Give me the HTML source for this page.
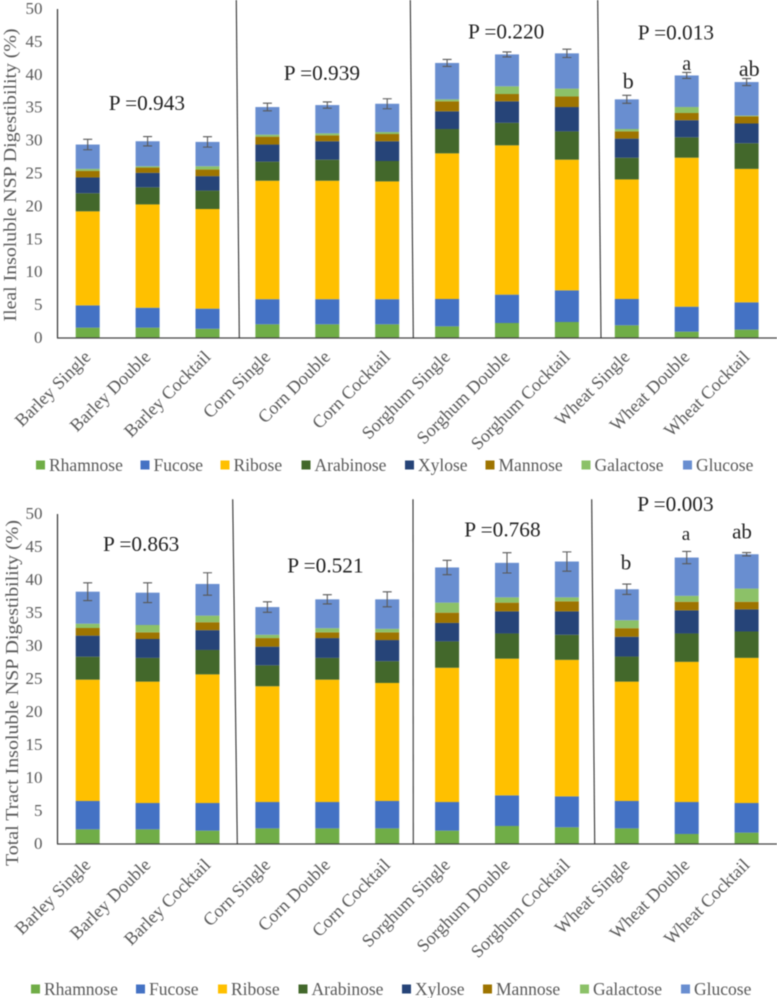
<!DOCTYPE html>
<html lang="en">
<head>
<meta charset="utf-8">
<title>Insoluble NSP Digestibility</title>
<style>
html,body{margin:0;padding:0;background:#fff;}
#figure{display:block;width:777px;height:998px;font-family:"Liberation Serif",serif;filter:blur(0.4px);}
.tick{font-size:17px;fill:#595959;text-anchor:end;}
.cat{font-size:18px;fill:#595959;text-anchor:end;}
.ytitle{font-size:17.5px;fill:#595959;text-anchor:middle;}
.leg{font-size:17.5px;fill:#595959;}
.p{font-size:21.3px;fill:#222;}
.sig{fill:#222;text-anchor:middle;}
</style>
</head>
<body>
<svg id="figure" xmlns="http://www.w3.org/2000/svg" width="777" height="998" viewBox="0 0 777 998">
  <g id="top">
    <text class="ytitle" transform="translate(16,175) rotate(-90)" textLength="293" lengthAdjust="spacingAndGlyphs">Ileal Insoluble NSP Digestibility (%)</text>
    <g id="top-marks"></g>
    <line x1="57.5" y1="9" x2="57.5" y2="338" stroke="#333" stroke-width="1.2"/>
    <line x1="57" y1="338" x2="777" y2="338" stroke="#444" stroke-width="1.2"/>
    <line x1="236.3" y1="0" x2="239.3" y2="338" stroke="#333" stroke-width="1.1"/>
    <line x1="410.3" y1="0" x2="413.3" y2="338" stroke="#333" stroke-width="1.1"/>
    <line x1="597.7" y1="0" x2="601" y2="338" stroke="#333" stroke-width="1.1"/>
    <text class="p" x="108.7" y="110">P =0.943</text>
    <text class="p" x="283.7" y="80">P =0.939</text>
    <text class="p" x="468" y="38.5">P =0.220</text>
    <text class="p" x="637.7" y="39.5">P =0.013</text>
    <text class="sig" x="628.3" y="88.3" font-size="22">b</text>
    <text class="sig" x="686.7" y="70" font-size="20">a</text>
    <text class="sig" x="749.3" y="76" font-size="22">ab</text>
  </g>
  <g id="bottom">
    <text class="ytitle" transform="translate(18,693) rotate(-90)" textLength="346" lengthAdjust="spacingAndGlyphs">Total Tract Insoluble NSP Digestibility (%)</text>
    <g id="bottom-marks"></g>
    <line x1="57.5" y1="514" x2="57.5" y2="844" stroke="#333" stroke-width="1.2"/>
    <line x1="57" y1="844" x2="777" y2="844" stroke="#444" stroke-width="1.2"/>
    <line x1="232.7" y1="499.3" x2="237.3" y2="844" stroke="#333" stroke-width="1.1"/>
    <line x1="413" y1="499.3" x2="413.3" y2="844" stroke="#333" stroke-width="1.1"/>
    <line x1="591.7" y1="499.3" x2="594.7" y2="844" stroke="#333" stroke-width="1.1"/>
    <text class="p" x="103" y="551">P =0.863</text>
    <text class="p" x="287.3" y="572.3">P =0.521</text>
    <text class="p" x="464.3" y="536.3">P =0.768</text>
    <text class="p" x="637.3" y="511">P =0.003</text>
    <text class="sig" x="626" y="569.3" font-size="21">b</text>
    <text class="sig" x="686" y="540" font-size="19">a</text>
    <text class="sig" x="742" y="538.3" font-size="21">ab</text>
  </g>
</svg>
<script>
const categories = ["Barley Single","Barley Double","Barley Cocktail","Corn Single","Corn Double","Corn Cocktail","Sorghum Single","Sorghum Double","Sorghum Cocktail","Wheat Single","Wheat Double","Wheat Cocktail"];
const seriesNames = ["Rhamnose","Fucose","Ribose","Arabinose","Xylose","Mannose","Galactose","Glucose"];
const seriesColors = ["#70AD47","#4472C4","#FFC000","#43682B","#264478","#9E7400","#8CC168","#698ED0"];
const yTicks = [0,5,10,15,20,25,30,35,40,45,50];

const ilealRhamnose = [1.57,1.57,1.4,2.08,2.08,2.08,1.77,2.28,2.43,1.93,0.96,1.27];
const ilealFucose = [3.39,3.03,3.06,3.82,3.82,3.82,4.16,4.31,4.81,4.0,3.8,4.15];
const ilealRibose = [14.29,15.7,15.14,18.0,18.0,17.9,22.13,22.69,19.86,18.17,22.64,20.28];
const ilealArabinose = [2.75,2.6,2.8,2.9,3.2,3.1,3.7,3.42,4.3,3.3,3.1,3.9];
const ilealXylose = [2.4,2.2,2.2,2.6,2.8,3.0,2.69,3.27,3.7,2.9,2.6,3.0];
const ilealMannose = [1.0,0.8,1.0,1.2,0.9,1.1,1.52,1.11,1.6,1.1,1.1,1.1];
const ilealGalactose = [0.3,0.2,0.5,0.3,0.3,0.3,0.3,1.17,1.2,0.36,0.9,0.1];
const ilealGlucose = [3.7,3.8,3.7,4.2,4.3,4.3,5.53,4.85,5.36,4.51,4.8,5.1];
const ilealError = [0.79,0.71,0.79,0.58,0.48,0.76,0.53,0.38,0.63,0.61,0.46,0.53];

const totalRhamnose = [2.22,2.22,2.02,2.37,2.37,2.37,2.02,2.73,2.53,2.37,1.52,1.72];
const totalFucose = [4.30,3.99,4.19,3.99,3.99,4.15,4.34,4.64,4.69,4.15,4.84,4.49];
const totalRibose = [18.38,18.39,19.49,17.54,18.54,17.88,20.34,20.71,20.68,18.08,21.24,21.99];
const totalArabinose = [3.48,3.6,3.7,3.17,3.3,3.3,4.0,3.82,3.8,3.8,4.3,4.0];
const totalXylose = [3.19,2.86,3.0,2.83,3.0,3.2,2.8,3.35,3.55,3.0,3.5,3.35];
const totalMannose = [1.16,1.01,1.2,1.3,0.87,1.17,1.55,1.32,1.52,1.3,1.3,1.15];
const totalGalactose = [0.65,1.11,1.0,0.5,0.63,0.53,1.52,0.8,0.6,1.2,0.9,2.0];
const totalGlucose = [4.85,4.9,4.8,4.2,4.37,4.47,5.33,5.23,5.43,4.7,5.8,5.2];
const totalError = [1.34,1.5,1.7,0.8,0.7,1.14,1.09,1.54,1.46,0.78,0.93,0.25];

const SVG_NS = "http://www.w3.org/2000/svg";
function make(parent, tag, attrs, text) {
  const el = document.createElementNS(SVG_NS, tag);
  for (const k in attrs) el.setAttribute(k, attrs[k]);
  if (text !== undefined) el.textContent = text;
  parent.appendChild(el);
  return el;
}
function slug(s) { return s.toLowerCase().replace(/\s+/g, "-"); }
function xPos(i) { return 87.7 + i * 59.9; }

function drawChart(rootId, prefix, cfg) {
  const root = document.getElementById(rootId);
  const y = function (v) { return cfg.base - v * cfg.unit; };
  const barW = 24;

  yTicks.forEach(function (t) {
    const el = make(root, "text", { class: "tick", x: 42.5, y: y(t) + 5 }, String(t));
    
    
  });

  categories.forEach(function (c, i) {
    const cx = xPos(i);
    let acc = 0;
    cfg.series.forEach(function (vals, s) {
      const v = vals[i];
      const r = make(root, "rect", { x: cx - barW / 2, y: y(acc + v), width: barW, height: v * cfg.unit, fill: seriesColors[s] });
      
      
      acc += v;
    });
    const e = cfg.error[i];
    const eb = make(root, "path", {
      d: "M" + (cx - 4.5) + " " + y(acc + e) + "H" + (cx + 4.5) +
         "M" + cx + " " + y(acc + e) + "V" + y(acc - e) +
         "M" + (cx - 4.5) + " " + y(acc - e) + "H" + (cx + 4.5),
      stroke: "#595959", "stroke-width": 1.1, fill: "none"
    });
    
    

    const lx = cx + 4, ly = cfg.catY;
    const lab = make(root, "text", { class: "cat", transform: "translate(" + lx + "," + ly + ") rotate(-45)" }, c);
    
    
  });

  seriesNames.forEach(function (n, s) {
    const mx = cfg.legendX[s];
    const m = make(root, "rect", { x: mx, y: cfg.legendY - cfg.legendSize / 2, width: cfg.legendSize, height: cfg.legendSize, fill: seriesColors[s] });
    
    
    const t = make(root, "text", { class: "leg", x: mx + cfg.legendSize + 4, y: cfg.legendY + 6 }, n);
    
    
  });
}

drawChart("top-marks", "ileal", {
  base: 338, unit: 6.58, catY: 358,
  series: [ilealRhamnose, ilealFucose, ilealRibose, ilealArabinose, ilealXylose, ilealMannose, ilealGalactose, ilealGlucose],
  error: ilealError,
  legendX: [36,140.5,220.5,301.5,405,485.5,581.5,683], legendY: 465, legendSize: 9
});
drawChart("bottom-marks", "total-tract", {
  base: 844, unit: 6.6, catY: 866,
  series: [totalRhamnose, totalFucose, totalRibose, totalArabinose, totalXylose, totalMannose, totalGalactose, totalGlucose],
  error: totalError,
  legendX: [31,136,218,298.5,402,483,580,681], legendY: 989, legendSize: 9
});
</script>
</body>
</html>
